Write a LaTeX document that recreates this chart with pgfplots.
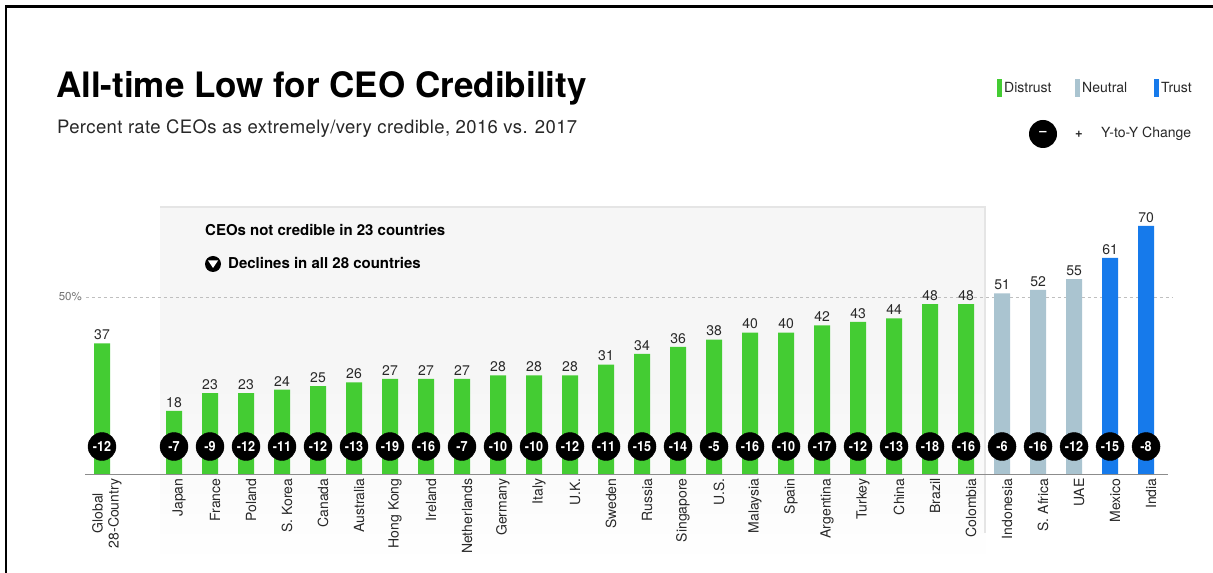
\documentclass[border=0pt]{standalone}
\usepackage{pgfplots}
\pgfplotsset{compat=1.18}
\usepackage{fontspec}
\setmainfont{TeX Gyre Heros}
\definecolor{cgreen}{RGB}{68,204,51}
\definecolor{cneutral}{RGB}{170,196,208}
\definecolor{ctrust}{RGB}{22,122,235}
\definecolor{ctext}{RGB}{40,40,40}
\begin{document}
\begin{tikzpicture}
\useasboundingbox (0,0) rectangle (1213pt,573pt);
\fill[white] (0,0) rectangle (1213pt,573pt);
% frame
\draw[line width=2.5pt, black] (6pt,0pt) -- (6pt,566.5pt) -- (1213pt,566.5pt);
% title
\node[anchor=base west, inner sep=0pt, font=\bfseries\fontsize{35}{35}\selectfont] at (56pt,475pt) {All-time Low for CEO Credibility};
\node[anchor=base west, inner sep=0pt, text=ctext, font=\fontsize{18.5}{18.5}\selectfont] at (57pt,439pt) {\addfontfeature{LetterSpace=2}Percent rate CEOs as extremely/very credible, 2016 vs. 2017};
% legend
\begin{scope}[font=\fontsize{14}{14}\selectfont, text=ctext]
\fill[cgreen] (997pt,476pt) rectangle (1002pt,494pt);
\node[anchor=base west, inner sep=0pt] at (1004pt,480pt) {Distrust};
\fill[cneutral] (1075pt,476pt) rectangle (1080pt,494pt);
\node[anchor=base west, inner sep=0pt] at (1082pt,480pt) {Neutral};
\fill[ctrust] (1154pt,476pt) rectangle (1159pt,494pt);
\node[anchor=base west, inner sep=0pt] at (1161pt,480pt) {Trust};
\fill[black] (1043pt,439pt) circle (14pt);
\node[text=white, font=\bfseries\fontsize{13}{13}\selectfont] at (1043pt,440pt) {--};
\node[font=\bfseries\fontsize{13}{13}\selectfont] at (1079pt,439pt) {+};
\node[anchor=west, inner sep=0pt] at (1101pt,439pt) {Y-to-Y Change};
\end{scope}
% shaded box
\shade[top color=black!3.5, bottom color=white, middle color=black!3.5] (160pt,10pt) rectangle (985pt,366pt);
\draw[black!10, line width=1.2pt] (160pt,366pt) -- (985pt,366pt) -- (985pt,40pt);
\node[anchor=base west, inner sep=0pt, font=\bfseries\fontsize{15}{15}\selectfont] at (205pt,337pt) {CEOs not credible in 23 countries};
\fill[black] (213pt,309pt) circle (8pt);
\fill[white] (208pt,312.5pt) -- (218pt,312.5pt) -- (213pt,305pt) -- cycle;
\node[anchor=base west, inner sep=0pt, font=\bfseries\fontsize{15}{15}\selectfont] at (228pt,304pt) {Declines in all 28 countries};
\node[anchor=east, inner sep=0pt, text=black!55, font=\fontsize{11.5}{11.5}\selectfont] at (82pt,276pt) {50\%};
\begin{axis}[
  at={(84pt,98pt)}, anchor=south west,
  scale only axis, width=1089pt, height=256.3pt,
  xmin=-0.5, xmax=29.75, ymin=0, ymax=72,
  clip=false,
  axis line style={draw=none},
  tick style={draw=none},
  ytick=\empty,
  /pgf/number format/assume math mode=true,
  xtick={0,2,3,...,29},
  xticklabels={{Global\\28-Country},Japan,France,Poland,S. Korea,Canada,Australia,Hong Kong,Ireland,Netherlands,Germany,Italy,U.K.,Sweden,Russia,Singapore,U.S.,Malaysia,Spain,Argentina,Turkey,China,Brazil,Colombia,Indonesia,S. Africa,UAE,Mexico,India},
  xticklabel style={rotate=90, anchor=east, align=center, font=\fontsize{14}{16}\selectfont, text=ctext, yshift=-5pt},
]
\draw[black!25, dashed, line width=0.8pt] (axis cs:-0.45,50) -- (axis cs:29.75,50);
\addplot[ybar, bar shift=0pt, bar width=16pt, fill=cgreen, draw=none,
  nodes near coords, every node near coord/.append style={font=\fontsize{14}{14}\selectfont, text=ctext}]
  coordinates {(0,37) (2,18) (3,23) (4,23) (5,24) (6,25) (7,26) (8,27) (9,27) (10,27) (11,28) (12,28) (13,28) (14,31) (15,34) (16,36) (17,38) (18,40) (19,40) (20,42) (21,43) (22,44) (23,48) (24,48)};
\addplot[ybar, bar shift=0pt, bar width=16pt, fill=cneutral, draw=none,
  nodes near coords, every node near coord/.append style={font=\fontsize{14}{14}\selectfont, text=ctext}]
  coordinates {(25,51) (26,52) (27,55)};
\addplot[ybar, bar shift=0pt, bar width=16pt, fill=ctrust, draw=none,
  nodes near coords, every node near coord/.append style={font=\fontsize{14}{14}\selectfont, text=ctext}]
  coordinates {(28,61) (29,70)};
\draw[black!45, line width=1pt] (axis cs:-0.47,0) -- (axis cs:29.6,0);
\addplot[only marks, mark=*, mark size=14pt, mark options={fill=black, draw=black},
  point meta=explicit symbolic, nodes near coords, nodes near coords align=center,
  every node near coord/.append style={text=white, font=\bfseries\fontsize{14}{14}\selectfont, xscale=0.9}]
  table[meta=c] {
x y c
0 8 -12
2 8 -7
3 8 -9
4 8 -12
5 8 -11
6 8 -12
7 8 -13
8 8 -19
9 8 -16
10 8 -7
11 8 -10
12 8 -10
13 8 -12
14 8 -11
15 8 -15
16 8 -14
17 8 -5
18 8 -16
19 8 -10
20 8 -17
21 8 -12
22 8 -13
23 8 -18
24 8 -16
25 8 -6
26 8 -16
27 8 -12
28 8 -15
29 8 -8
};
\end{axis}
\end{tikzpicture}
\end{document}
